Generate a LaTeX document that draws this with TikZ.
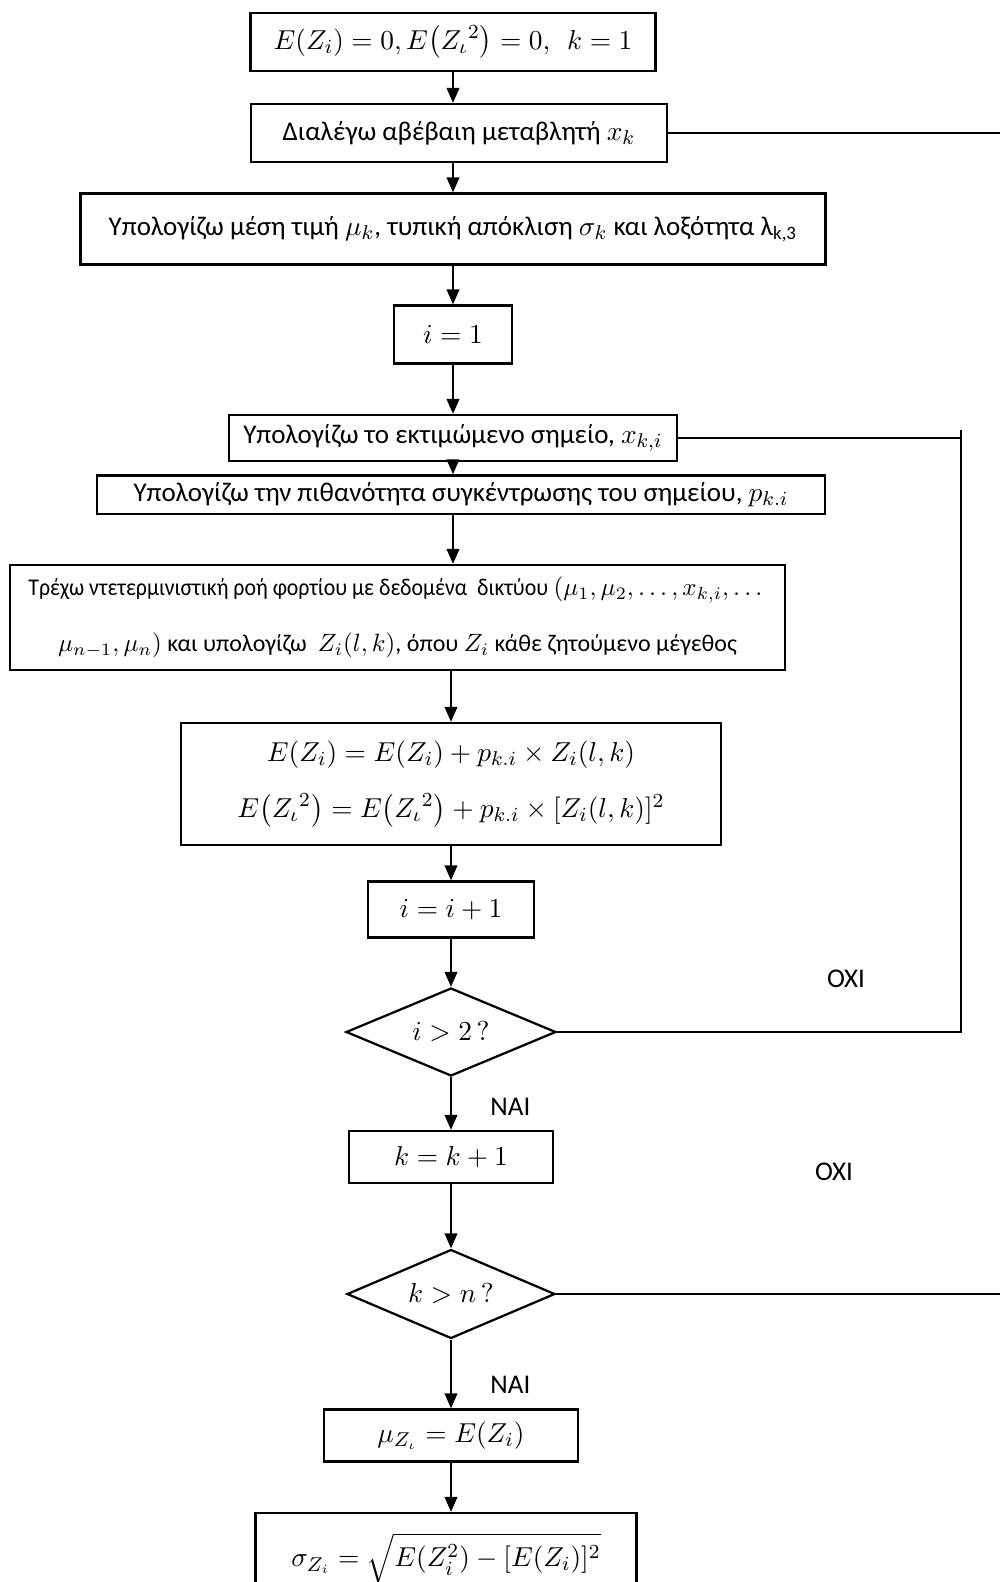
\documentclass[tikz,border=0pt]{standalone}
\usepackage{amsmath}
\usepackage{fontspec}
\setmainfont{Carlito}
\newfontfamily\narrowfont{Carlito}[FakeStretch=0.91]
\usepackage{tikz}
\usetikzlibrary{positioning,shapes.geometric,arrows.meta}

\begin{document}
\begin{tikzpicture}[node distance=40pt,on grid,line width=0.9pt,
  >={Triangle[length=6pt,width=5pt]},
  every node/.style={font=\fontsize{10.8}{13}\selectfont},
  box/.style={draw,inner sep=2pt},
  twoline/.style={box,align=center,font=\fontsize{10.8}{22.4}\selectfont},
  decision/.style={draw,diamond,aspect=2.4,inner sep=0pt}]
  \useasboundingbox (0,0) rectangle (400pt,-632.8pt);
  \clip (0,0) rectangle (400pt,-632.8pt);
  \coordinate (edge) at (400pt,0);
  \coordinate (loop) at (384.4pt,0);
  \node[box,minimum width=162pt,minimum height=23.2pt] (init) at (181.2pt,-16.8pt)
    {$E(Z_i)=0, E\bigl({Z_\iota}^2\bigr)=0,\ \ k=1$};
  \node[box,minimum width=166.4pt,minimum height=23.2pt,xshift=2.4pt] (pick) [below=36.4pt of init]
    {Διαλέγω αβέβαιη μεταβλητή $x_k$};
  \node[box,minimum width=298pt,minimum height=28.4pt,xshift=-2.4pt] (stats) [below=38.4pt of pick]
    {Υπολογίζω μέση τιμή $\mu_k$, τυπική απόκλιση $\sigma_k$ και λοξότητα λ\textsubscript{k,3}};
  \node[box,minimum width=47.2pt,minimum height=23.2pt] (iset) [below=42.2pt of stats] {$i=1$};
  \node[box,minimum width=179.2pt,minimum height=18.4pt] (point) [below=41.4pt of iset]
    {Υπολογίζω το εκτιμώμενο σημείο, $x_{k,i}$};
  \node[box,minimum width=291pt,minimum height=15.3pt,xshift=3.2pt] (prob) [below=22.6pt of point]
    {Υπολογίζω την πιθανότητα συγκέντρωσης του σημείου, $p_{k.i}$};
  \node[twoline,minimum width=310pt,minimum height=42pt,font=\fontsize{9.6}{22.4}\selectfont]
    (flow) [below left=49.2pt and 25.4pt of prob]
    {{\narrowfont Τρέχω ντετερμινιστική ροή φορτίου με δεδομένα \ δικτύου} $(\mu_1,\mu_2,\dots,x_{k,i},\dots$\\
     $\mu_{n-1},\mu_n)$ και υπολογίζω \ $Z_i(l,k)$, όπου $Z_i$ κάθε ζητούμενο μέγεθος};
  \node[twoline,minimum width=216pt,minimum height=48.8pt] (expect) [below right=66.6pt and 21.4pt of flow]
    {$E(Z_i)=E(Z_i)+p_{k.i}\times Z_i(l,k)$\\
     $E\bigl({Z_\iota}^2\bigr)=E\bigl({Z_\iota}^2\bigr)+p_{k.i}\times[Z_i(l,k)]^2$};
  \node[box,minimum width=66.4pt,minimum height=22.4pt] (iinc) [below=50.2pt of expect] {$i=i+1$};
  \node[decision,minimum width=84pt,minimum height=35.2pt] (itest) [below=49pt of iinc] {$i>2\,?$};
  \node[box,minimum width=81.6pt,minimum height=20.8pt] (kinc) [below=50pt of itest] {$k=k+1$};
  \node[decision,minimum width=83.2pt,minimum height=35.6pt] (ktest) [below=54.8pt of kinc] {$k>n\,?$};
  \node[box,minimum width=101.6pt,minimum height=20.8pt] (mean) [below=56.6pt of ktest] {$\mu_{Z_\iota}=E(Z_i)$};
  \node[box,minimum width=152.4pt,minimum height=36pt,xshift=-2pt] (stdev) [below=49pt of mean]
    {$\sigma_{Z_i}=\sqrt{E(Z_i^2)-[E(Z_i)]^2}$};
  \node (no1) at (338.4pt,-391.6pt) {ΟΧΙ};
  \node (no2) at (333.6pt,-468.8pt) {ΟΧΙ};
  \path[->]
  (init) edge (init |- pick.north)
  (pick.south -| init) edge (init |- stats.north)
  (stats) edge (iset)
  (iset) edge (point)
  (point) edge (point |- prob.north)
  (prob.south -| point) edge (point |- flow.north)
  (flow.south -| expect) edge (expect)
  (expect) edge (iinc)
  (iinc) edge (itest)
  (itest) edge node[right=12pt,pos=0.56] {ΝΑΙ} (kinc)
  (kinc) edge (ktest)
  (ktest) edge node[right=12pt,pos=0.66] {ΝΑΙ} (mean)
  (mean) edge (mean |- stdev.north)
  ;
  \draw (pick.east) -- (pick.east -| edge);
  \draw (point.east) -- (point.east -| loop);
  \draw ([yshift=3.2pt]point.east -| loop) -- (itest.east -| loop) -- (itest.east);
  \draw (ktest.east) -- (ktest.east -| edge);
\end{tikzpicture}
\end{document}
